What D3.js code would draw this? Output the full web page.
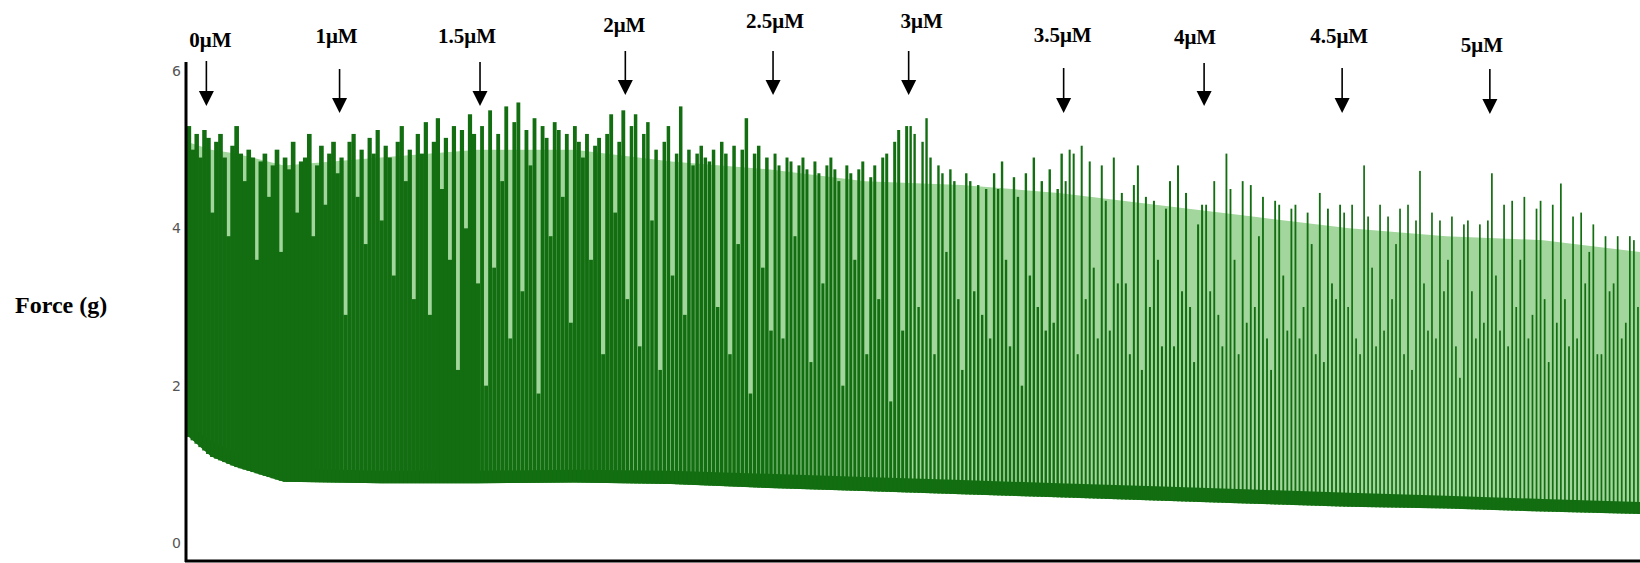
<!DOCTYPE html>
<html>
<head>
<meta charset="utf-8">
<script src="https://cdn.jsdelivr.net/npm/d3@7/dist/d3.min.js"></script>
<style>
  body { margin: 0; background: #fff; }
</style>
</head>
<body>
<div id="chart"></div>
<script>
// doses and the time (min) each was added
var doseLabels = ["0μM", "1μM", "1.5μM", "2μM", "2.5μM", "3μM", "3.5μM", "4μM", "4.5μM", "5μM"];
var doseTimes = [0.8, 6.3, 12.1, 18.1, 24.2, 29.8, 36.2, 42.0, 47.7, 53.8];
var recordEnd = 60;

var yTicks = [0, 2, 4, 6];

// envelope of the trace (g) read at these times (min)
var envTime = [0, 1, 2, 4, 8, 12, 16, 20, 24, 28, 32, 36, 40, 44, 48, 52, 56, 60];
var envBase = [1.37, 1.1, 0.97, 0.78, 0.76, 0.76, 0.77, 0.75, 0.7, 0.66, 0.62, 0.58, 0.54, 0.5, 0.46, 0.44, 0.4, 0.37];
var envBand = [1.5, 1.3, 1.15, 0.95, 0.92, 0.92, 0.93, 0.92, 0.88, 0.84, 0.8, 0.76, 0.72, 0.68, 0.64, 0.6, 0.56, 0.52];
var envTop = [5.1, 5.0, 4.95, 4.8, 4.9, 5.0, 5.0, 4.85, 4.75, 4.6, 4.55, 4.45, 4.3, 4.15, 4.0, 3.9, 3.85, 3.7];

// peak force of each contraction, one list per dose period
var peaks0 = [5.3, 5.0, 5.2, 4.9, 5.25];
var peaks1 = [5.15, 4.2, 5.1, 5.2, 4.9, 3.9, 5.05, 5.3, 4.95, 4.6, 5.0, 4.9, 3.6, 4.85, 4.95, 4.4, 4.8, 5.0, 3.7, 4.9, 4.75, 5.1, 4.2, 4.85, 4.9, 5.2, 3.9, 4.8, 5.05, 4.3, 4.95, 5.1, 4.7];
var peaks2 = [4.9, 2.9, 5.1, 5.2, 4.4, 5.0, 3.8, 5.15, 4.95, 5.25, 4.1, 5.05, 4.9, 3.4, 5.1, 5.3, 4.6, 5.0, 3.1, 5.2, 4.95, 5.35, 2.9, 5.1, 5.4, 4.5, 5.15, 3.6, 5.3, 2.2, 5.25, 4.0, 5.45, 5.2, 3.3];
var peaks3 = [5.3, 2.0, 5.5, 3.5, 5.2, 4.6, 5.55, 2.6, 5.35, 5.6, 3.2, 5.25, 4.8, 5.4, 1.9, 5.3, 5.15, 3.9, 5.35, 5.25, 4.4, 5.2, 2.8, 5.3, 5.1, 4.9, 5.2, 3.6, 5.05, 5.15, 2.4, 5.2, 5.45, 4.2, 5.1, 5.5];
var peaks4 = [3.1, 5.3, 5.45, 2.5, 5.2, 5.35, 4.1, 5.0, 2.2, 5.1, 5.3, 3.4, 4.95, 5.55, 2.9, 5.0, 4.8, 4.95, 5.05, 4.9, 4.85, 5.0, 3.0, 5.1, 4.95, 2.4, 5.05, 3.8, 5.0, 5.4, 1.9, 4.95, 5.05, 3.5, 4.9, 2.7];
var peaks5 = [4.95, 4.8, 2.6, 4.9, 4.85, 3.9, 4.8, 4.9, 4.75, 2.3, 4.85, 4.7, 3.3, 4.8, 4.9, 4.75, 4.6, 2.0, 4.8, 4.7, 3.6, 4.75, 4.85, 2.4, 4.65, 4.8, 3.1, 4.9, 4.95, 1.8, 5.1, 5.25, 2.7, 5.3];
var peaks6 = [5.3, 5.2, 3.0, 5.1, 5.4, 4.9, 2.4, 4.8, 4.7, 3.7, 4.75, 4.6, 3.1, 2.2, 4.7, 4.6, 3.2, 4.55, 2.9, 4.5, 2.6, 4.7, 4.5, 4.85, 3.6, 2.5, 4.65, 4.4, 2.0, 4.7, 3.4, 4.9, 3.0, 4.6, 2.7, 4.75, 2.8, 4.5, 4.95];
var peaks7 = [4.6, 5.0, 4.95, 2.4, 5.05, 3.1, 4.85, 3.5, 2.6, 4.8, 4.35, 2.7, 4.9, 3.3, 4.45, 3.3, 2.4, 4.55, 4.8, 2.2, 4.4, 3.0, 4.35, 3.6, 2.5, 4.25, 4.6, 2.5, 4.8, 3.2, 4.45, 3.0, 2.3, 4.05, 4.3];
var peaks8 = [4.3, 3.2, 4.6, 2.9, 2.5, 4.95, 4.5, 3.6, 2.4, 4.6, 2.8, 4.55, 3.0, 3.9, 4.4, 2.6, 2.2, 4.35, 4.3, 3.4, 2.7, 4.25, 4.3, 2.6, 3.0, 4.2, 3.8, 2.4, 4.45, 2.3, 4.25, 3.3, 3.1, 4.3];
var peaks9 = [4.2, 3.0, 4.3, 2.6, 2.4, 4.8, 4.15, 3.5, 2.5, 4.3, 2.7, 4.15, 3.1, 3.8, 4.25, 2.4, 4.3, 2.2, 4.1, 4.73, 3.3, 2.7, 4.2, 2.6, 4.1, 3.2, 3.6, 4.15, 2.5, 2.1, 4.05, 4.1, 3.2, 2.6, 4.05, 2.8, 4.1];
var peaks10 = [4.7, 3.4, 2.7, 4.3, 2.5, 4.35, 3.0, 3.6, 4.4, 2.6, 2.9, 4.25, 4.35, 3.1, 2.3, 4.3, 2.8, 4.57, 3.1, 2.5, 4.15, 2.6, 4.2, 3.3, 3.7, 4.05, 2.4, 2.4, 3.9, 3.2, 3.3, 3.9, 2.6, 2.8, 3.9, 3.85, 3.0];
var peakSets = [peaks0, peaks1, peaks2, peaks3, peaks4, peaks5, peaks6, peaks7, peaks8, peaks9, peaks10];

// layout
var width = 1640, height = 563;
var plotLeft = 187, plotRight = 1640, plotBottom = 561, plotTop = 62;
var darkGreen = "#126e11", paleGreen = "#a2d69c";
var labelBase = [47, 43, 43, 32, 28, 28, 42, 44, 43, 52];
var labelShift = [4, -3, -13, -1, 2, 13, -1, -9, -3, -8];
var arrowTop = [61, 69, 62, 51, 51, 51, 68, 63, 68, 69];
var arrowTip = [106, 113, 106, 95, 95, 95, 113, 106, 113, 114];
// share of each beat slot covered by the dark stroke, per period
var cover = [1.15, 1.15, 1.05, 0.95, 0.85, 0.75, 0.6, 0.5, 0.45, 0.42, 0.42];

var svg = d3.select("#chart").append("svg")
    .attr("width", width)
    .attr("height", height);

var x = d3.scaleLinear().domain([0, recordEnd]).range([plotLeft, plotRight]);
var y = d3.scaleLinear().domain([0, 6]).range([543, 71]);
var baseAt = d3.scaleLinear().domain(envTime).range(envBase);

//pale body of the trace
svg.append("path")
    .datum(envTime)
    .attr("d", d3.area()
        .x(function(d){return x(d);})
        .y0(function(d, i){return y(envBase[i]);})
        .y1(function(d, i){return y(envTop[i]);}))
    .style("fill", paleGreen);

//dark band along the baseline
svg.append("path")
    .datum(envTime)
    .attr("d", d3.area()
        .x(function(d){return x(d);})
        .y0(function(d, i){return y(envBase[i]);})
        .y1(function(d, i){return y(envBand[i]);}))
    .style("fill", darkGreen);

// one bar per contraction
var beats = [];
peakSets.forEach(function(list, s){
    var t0 = s === 0 ? 0 : doseTimes[s - 1];
    var t1 = s < doseTimes.length ? doseTimes[s] : recordEnd;
    var step = (t1 - t0) / list.length;
    list.forEach(function(p, j){
        beats.push({t: t0 + (j + 0.5) * step, peak: p, slot: x(t0 + step) - x(t0), seg: s});
    });
});

svg.append("g").selectAll("rect")
    .data(beats)
    .enter()
    .append("rect")
    .attr("x", function(d){return x(d.t) - d.slot * cover[d.seg] / 2;})
    .attr("width", function(d){return d.slot * cover[d.seg];})
    .attr("y", function(d){return y(d.peak);})
    .attr("height", function(d){return y(baseAt(d.t)) - y(d.peak);})
    .style("fill", darkGreen);

// y axis
var yAxis = svg.append("g")
    .attr("transform", "translate(" + plotLeft + ",0)")
    .call(d3.axisLeft(y).tickValues(yTicks).tickFormat(d3.format("d")).tickSize(0).tickPadding(6));
yAxis.select(".domain").remove();
yAxis.selectAll("text")
    .attr("font-family", "DejaVu Sans, sans-serif")
    .attr("font-size", "14px")
    .attr("fill", "#555");

svg.append("line")
    .attr("x1", plotLeft - 1).attr("x2", plotLeft - 1)
    .attr("y1", plotTop).attr("y2", plotBottom + 1)
    .style("stroke", "#000").style("stroke-width", 3);
svg.append("line")
    .attr("x1", plotLeft - 2).attr("x2", plotRight)
    .attr("y1", plotBottom).attr("y2", plotBottom)
    .style("stroke", "#000").style("stroke-width", 3);

svg.append("text")
    .attr("x", 15)
    .attr("y", 313)
    .text("Force (g)")
    .attr("font-family", "Liberation Serif, Times New Roman, serif")
    .attr("font-weight", "bold")
    .attr("font-size", "24px")
    .attr("fill", "#000");

// dose arrows and labels
var doses = svg.append("g").selectAll("g")
    .data(doseTimes)
    .enter()
    .append("g");

doses.append("line")
    .attr("x1", function(d){return x(d);})
    .attr("x2", function(d){return x(d);})
    .attr("y1", function(d, i){return arrowTop[i];})
    .attr("y2", function(d, i){return arrowTip[i] - 12;})
    .style("stroke", "#000")
    .style("stroke-width", 1.6);

doses.append("path")
    .attr("d", function(d, i){
        var ax = x(d), tip = arrowTip[i];
        return "M" + (ax - 7.5) + "," + (tip - 15) + "L" + (ax + 7.5) + "," + (tip - 15) + "L" + ax + "," + tip + "Z";
    })
    .style("fill", "#000");

doses.append("text")
    .attr("x", function(d, i){return x(d) + labelShift[i];})
    .attr("y", function(d, i){return labelBase[i];})
    .attr("text-anchor", "middle")
    .text(function(d, i){return doseLabels[i];})
    .attr("font-family", "Liberation Serif, Times New Roman, serif")
    .attr("font-weight", "bold")
    .attr("font-size", "21px")
    .attr("fill", "#000");
</script>
</body>
</html>
